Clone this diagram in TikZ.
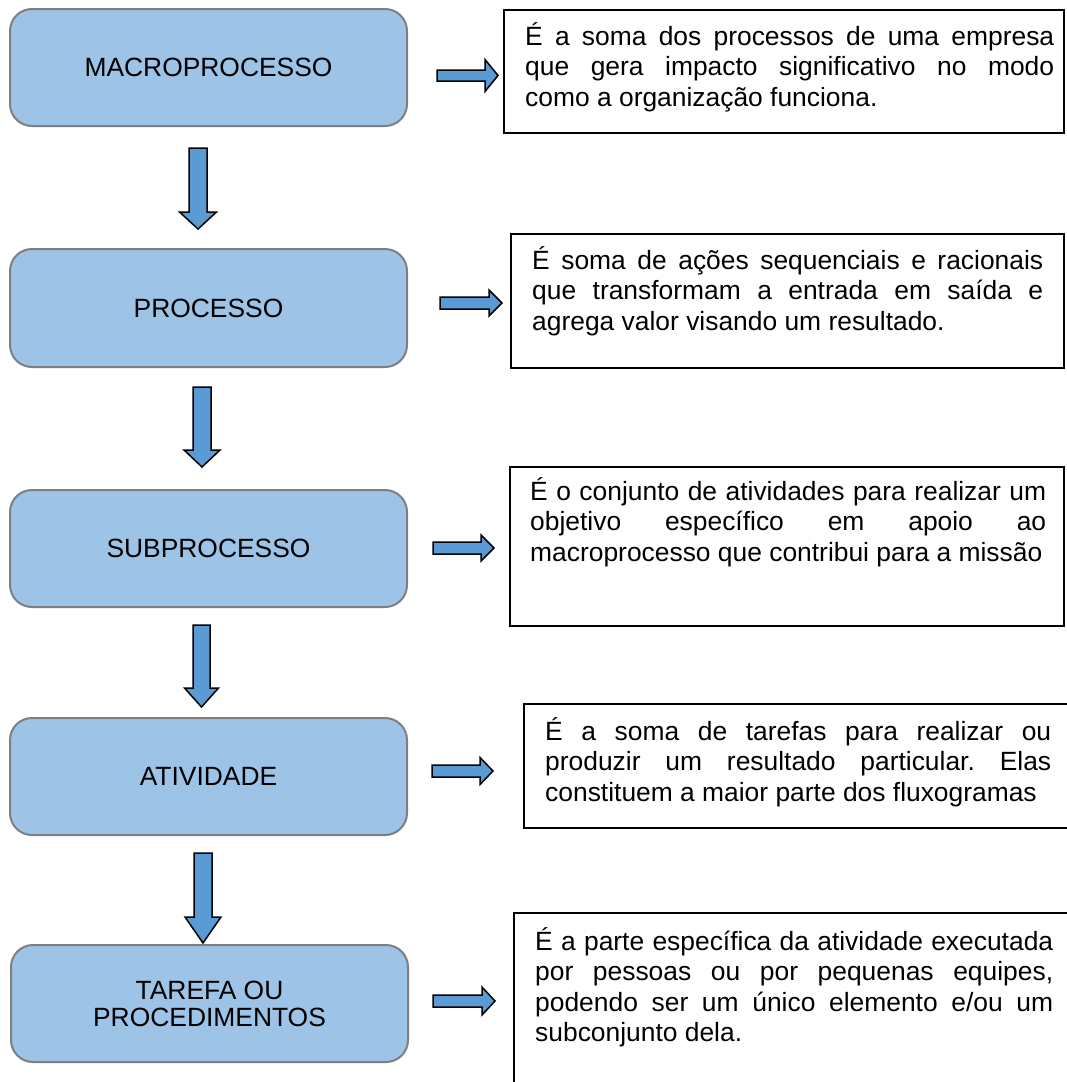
\documentclass[tikz,border=0pt]{standalone}
\usepackage{fontspec}
\setmainfont{Liberation Sans}
\definecolor{stagefill}{RGB}{157,195,230}
\definecolor{stageline}{RGB}{127,127,127}
\definecolor{arrowfill}{RGB}{91,155,213}
\tolerance=10000 \hbadness=10000 \hfuzz=6pt
\hyphenpenalty=10000 \exhyphenpenalty=10000
\frenchspacing
\tikzset{
  stage/.style={draw=stageline, line width=2pt, fill=stagefill, rounded corners=22pt,
    minimum width=397pt, inner sep=0pt, align=center,
    font={\fontsize{26.4}{27}\selectfont}},
  frame/.style={draw=black, line width=1.2pt},
  desc/.style={anchor=base west, inner sep=0pt, align=justify,
    font={\fontsize{26.4}{30.5}\selectfont\frenchspacing\hyphenpenalty=10000 }},
  blockarrow/.style={draw=black, line width=1.5pt, fill=arrowfill, line join=miter}
}
% right block arrow: x0, xhead, xtip, ycentre, shaft half, head half
\newcommand\blkright[6]{%
  \draw[blockarrow] (#1,#4-#5) -- (#2,#4-#5) -- (#2,#4-#6) -- (#3,#4)
    -- (#2,#4+#6) -- (#2,#4+#5) -- (#1,#4+#5) -- cycle;}
% down block arrow: xcentre, y0, yhead, ytip, shaft half, head half
\newcommand\blkdown[6]{%
  \draw[blockarrow] (#1-#5,#2) -- (#1+#5,#2) -- (#1+#5,#3) -- (#1+#6,#3)
    -- (#1,#4) -- (#1-#6,#3) -- (#1-#5,#3) -- cycle;}
\begin{document}
\begin{tikzpicture}[x=1pt,y=-1pt]
\useasboundingbox (0,0) rectangle (1067,1082);
\clip (0,0) rectangle (1067,1082);
\fill[white] (0,0) rectangle (1067,1082);

% stage boxes
\node[stage, minimum height=117pt] (b1) at (208.5,67.5) {MACROPROCESSO};
\node[stage, minimum height=118pt] (b2) at (208.5,308) {PROCESSO};
\node[stage, minimum height=117pt] (b3) at (208.5,548.5) {SUBPROCESSO};
\node[stage, minimum height=117pt] (b4) at (208.5,776.5) {ATIVIDADE};
\node[stage, minimum height=117pt] (b5) at (209.5,1003.5) {TAREFA OU\\PROCEDIMENTOS};

% down arrows
\blkdown{198}{148}{212}{229}{9}{18.5}
\blkdown{202}{387}{450}{467}{9}{18}
\blkdown{201.5}{625}{688}{707}{8.5}{17}
\blkdown{203}{853}{917}{943}{9}{18}

% right arrows
\blkright{437}{485}{498}{75.5}{5.5}{16}
\blkright{440}{489}{502}{303}{6}{13}
\blkright{433}{481}{494}{548}{6}{13}
\blkright{432}{480}{493}{771}{6}{13.5}
\blkright{433}{482}{495}{1001}{6}{14}

% description frames
\draw[frame] (504,10) rectangle (1064,133);
\draw[frame] (511,234) rectangle (1064,368);
\draw[frame] (510,467) rectangle (1064,626);
\draw[frame] (524,704) rectangle (1085,828);
\draw[frame] (514,913) rectangle (1085,1100);

% description texts
\node[desc, text width=529pt] (t1) at (525,45) {É a soma dos processos de uma empresa\linebreak que gera impacto significativo no modo\linebreak como a organização funciona.};
\node[desc, text width=511pt] (t2) at (532,269) {É soma de ações sequenciais e racionais\linebreak que transformam a entrada em saída e\linebreak agrega valor visando um resultado.};
\node[desc, text width=516pt] (t3) at (530,500) {É o conjunto de atividades para realizar um\linebreak objetivo específico em apoio ao\linebreak macroprocesso que contribui para a missão};
\node[desc, text width=506pt] (t4) at (545,740) {É a soma de tarefas para realizar ou\linebreak produzir um resultado particular. Elas\linebreak constituem a maior parte dos fluxogramas};
\node[desc, text width=518pt] (t5) at (535,950) {É a parte específica da atividade executada\linebreak por pessoas ou por pequenas equipes,\linebreak podendo ser um único elemento e/ou um\linebreak subconjunto dela.};
\end{tikzpicture}
\end{document}
